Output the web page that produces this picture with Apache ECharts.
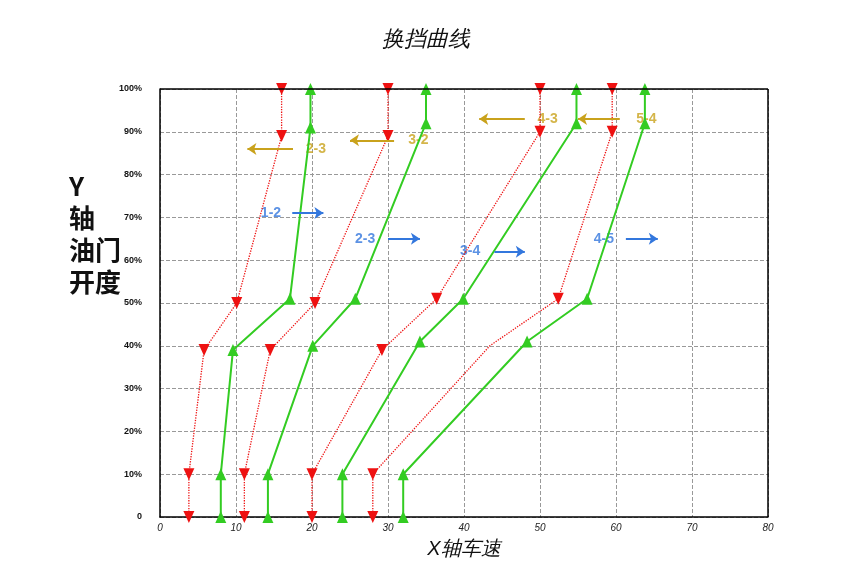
<!DOCTYPE html>
<html>
<head>
<meta charset="utf-8">
<script src="https://cdn.jsdelivr.net/npm/echarts@6/dist/echarts.min.js"></script>
<style>html,body{margin:0;padding:0;background:#fff}#chart{width:852px;height:588px}</style>
</head>
<body>
<div id="chart"></div>
<script>
  // upshift curves (green) : [speed, throttle %]
  var up12 = [[8, 0], [8, 10], [9.6, 39], [17.1, 51], [19.8, 91], [19.8, 100]];
  var up23 = [[14.2, 0], [14.2, 10], [20.1, 40], [25.7, 51], [35, 92], [35, 100]];
  var up34 = [[24, 0], [24, 10], [34.2, 41], [39.9, 51], [54.8, 92], [54.8, 100]];
  var up45 = [[32, 0], [32, 10], [48.3, 41], [56.2, 51], [63.8, 92], [63.8, 100]];
  // downshift curves (red)
  var dn21 = [[3.8, 0], [3.8, 10], [5.8, 39], [10.1, 50], [16, 89], [16, 100]];
  var dn32 = [[11.1, 0], [11.1, 10], [14.5, 39], [20.4, 50], [30, 89], [30, 100]];
  var dn43 = [[20, 0], [20, 10], [29.2, 39], [36.4, 51], [50, 90], [50, 100]];
  var dn54 = [[28, 0], [28, 10], [43.4, 40], [52.4, 51], [59.5, 90], [59.5, 100]];
  // annotation arrows: [label, textX, fromX, toX, y]
  var upNotes = [['1-2', 14.6, 17.4, 21.5, 71], ['2-3', 27, 30, 34.2, 65],
    ['3-4', 40.8, 44, 48, 62], ['4-5', 58.4, 61.3, 65.5, 65]];
  var dnNotes = [['2-3', 20.5, 17.5, 11.5, 86], ['3-2', 34, 30.8, 25, 88],
    ['4-3', 51, 48, 42, 93], ['5-4', 64, 60.5, 55, 93]];
  var yTicks = ['0', '10%', '20%', '30%', '40%', '50%', '60%', '70%', '80%', '90%', '100%'];

  var GREEN = '#33cc22', RED = '#ee1111', BLUE = '#3377dd', GOLD = '#c9a21c';

  function curve(data, color, dotted, skip) {
    return {
      type: 'line', silent: true,
      data: data.map(function (p, i) { return i === skip ? { value: p, symbol: 'none' } : p; }),
      symbol: 'triangle', symbolSize: [11, 12], symbolRotate: dotted ? 180 : 0,
      lineStyle: { color: color, width: dotted ? 1.3 : 2, type: dotted ? 'dotted' : 'solid' },
      itemStyle: { color: color }
    };
  }

  function notes(list, color) {
    return {
      type: 'scatter', symbolSize: 0, silent: true,
      data: list.map(function (n) { return { value: [n[1], n[4]], label: { show: true, formatter: n[0] } }; }),
      label: { color: color, fontSize: 14, fontWeight: 'bold', position: 'inside' },
      markLine: {
        silent: true, symbol: ['none', 'arrow'], symbolSize: 9,
        lineStyle: { color: color, width: 2, type: 'solid' }, label: { show: false },
        data: list.map(function (n) { return [{ coord: [n[2], n[4]] }, { coord: [n[3], n[4]] }]; })
      }
    };
  }

  var chart = echarts.init(document.getElementById('chart'));
  chart.setOption({
    animation: false,
    title: { text: '换挡曲线', left: 'center', top: 24,
      textStyle: { fontSize: 22, fontStyle: 'italic', fontWeight: 'normal', color: '#111' } },
    graphic: [{ type: 'text', left: 69, top: 170,
      style: { text: 'Y\n轴\n油门\n开度', font: 'bold 26px "Noto Sans CJK SC"', fill: '#111',
        align: 'center', lineHeight: 32 } }],
    grid: { left: 160, right: 84, top: 89, bottom: 71 },
    xAxis: {
      type: 'value', min: 0, max: 80, interval: 10,
      name: 'X轴车速', nameLocation: 'middle', nameGap: 22,
      nameTextStyle: { fontSize: 20, fontStyle: 'italic', color: '#111' },
      axisLine: { show: true, lineStyle: { color: '#000', width: 1.5 } },
      axisTick: { show: false },
      axisLabel: { fontSize: 10, fontStyle: 'italic', color: '#222', margin: 6 },
      splitLine: { show: true, lineStyle: { color: '#999', type: 'dashed' } }
    },
    yAxis: {
      type: 'value', min: 0, max: 100, interval: 10,
      axisLine: { show: true, lineStyle: { color: '#000', width: 1.5 } },
      axisTick: { show: false },
      axisLabel: { fontSize: 9, fontWeight: 'bold', color: '#111', margin: 18,
        formatter: function (v) { return yTicks[v / 10]; } },
      splitLine: { show: true, lineStyle: { color: '#999', type: 'dashed' } }
    },
    series: [
      curve(dn21, RED, true), curve(dn32, RED, true), curve(dn43, RED, true), curve(dn54, RED, true, 2),
      curve(up12, GREEN, false), curve(up23, GREEN, false), curve(up34, GREEN, false), curve(up45, GREEN, false),
      notes(upNotes, BLUE), notes(dnNotes, GOLD),
      { type: 'line', data: [],
        markLine: { silent: true, symbol: 'none', label: { show: false },
          lineStyle: { color: '#000', width: 1.5, type: 'solid' },
          data: [[{ coord: [0, 100] }, { coord: [80, 100] }], [{ coord: [80, 0] }, { coord: [80, 100] }]] } }
    ]
  });
</script>
</body>
</html>
